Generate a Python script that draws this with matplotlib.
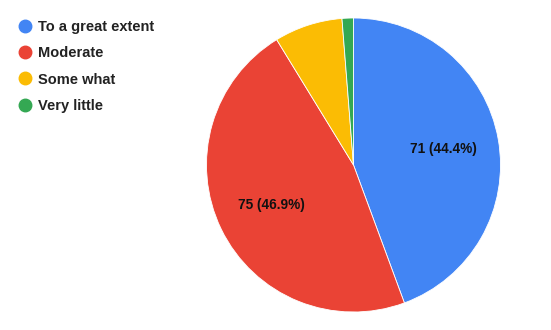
import matplotlib.pyplot as plt
from matplotlib.lines import Line2D

# responses per category
categories = ["To a great extent", "Moderate", "Some what", "Very little"]
counts = [71, 75, 12, 2]
colors = ["#4285F4", "#EA4335", "#FBBC04", "#34A853"]

total = sum(counts)

def make_label(pct):
    n = int(round(pct * total / 100.0))
    if pct < 10:
        return ""
    return "%d (%.1f%%)" % (n, pct)

plt.rcParams["font.family"] = ["Liberation Sans", "DejaVu Sans"]

fig = plt.figure(figsize=(5.51, 3.30), dpi=100)
# pie axes: centre ~(353, 165) px, radius ~147 px
ax = fig.add_axes([(353.5 - 147) / 551, (165 - 147) / 330, 294 / 551, 294 / 330])
wedges, texts, autotexts = ax.pie(counts, colors=colors, startangle=90, counterclock=False,
                                  autopct=make_label, pctdistance=0.62,
                                  wedgeprops=dict(edgecolor="white", linewidth=0.6),
                                  textprops=dict(fontsize=9.8, fontweight="bold", color="#111111"))
ax.set_xlim(-1, 1)
ax.set_ylim(-1, 1)
ax.set_aspect("equal")

handles = [Line2D([], [], marker="o", linestyle="", markersize=9,
                  markerfacecolor=c, markeredgecolor=c) for c in colors]
leg = fig.legend(handles, categories, loc="upper left", bbox_to_anchor=(0.01, 0.978),
                 frameon=False, handlelength=0.9, handletextpad=0.45, labelspacing=0.83,
                 prop=dict(size=10.5, weight="bold"))
for t in leg.get_texts():
    t.set_color("#222222")

fig.savefig("out.png", dpi=100)
